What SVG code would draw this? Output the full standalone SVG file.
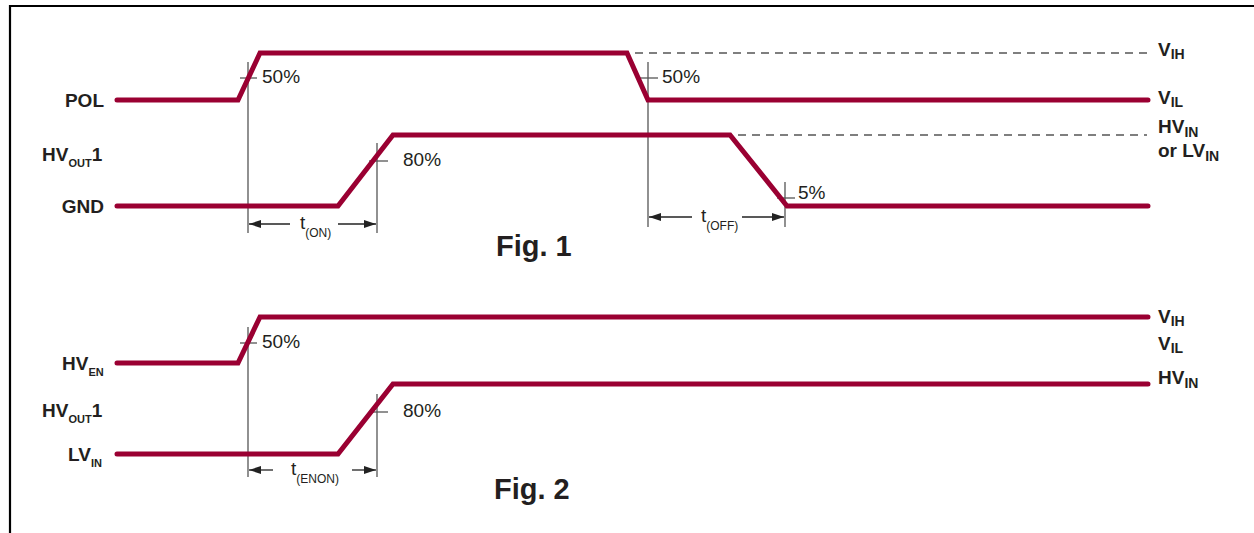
<svg xmlns="http://www.w3.org/2000/svg" width="1254" height="533" viewBox="0 0 1254 533">
<defs>
<style>
.sig{fill:none;stroke:#9a0032;stroke-width:5;stroke-linecap:round;stroke-linejoin:miter}
.ref{fill:none;stroke:#555;stroke-width:1.3}
.dash{fill:none;stroke:#555;stroke-width:1.3;stroke-dasharray:8 6}
.arr{fill:none;stroke:#222;stroke-width:1.3}
.lbl{font-family:"Liberation Sans",Arial,sans-serif;font-weight:bold;font-size:19px;fill:#231f20}
.lsub{font-size:11px}
.rsub{font-size:14px}
.pct{font-family:"Liberation Sans",Arial,sans-serif;font-size:19px;fill:#231f20}
.tsub{font-size:12px}
.fig{font-family:"Liberation Sans",Arial,sans-serif;font-weight:bold;font-size:29px;fill:#231f20}
</style>
<marker id="ah" viewBox="0 0 12 8" refX="12" refY="4" markerWidth="12" markerHeight="8" markerUnits="userSpaceOnUse" orient="auto">
<path d="M0,0 L12,4 L0,8 Z" fill="#222"/>
</marker>
</defs>
<rect width="1254" height="533" fill="#fff"/>
<path d="M10,533 V6 H1260" fill="none" stroke="#000" stroke-width="2.2"/>

<g id="connectors">
<!-- Fig 1 reference lines -->
<line class="dash" x1="635" y1="53" x2="1147" y2="53"/>
<line class="dash" x1="738" y1="135" x2="1147" y2="135"/>
<line class="ref" x1="248" y1="62" x2="248" y2="233"/>
<line class="ref" x1="240" y1="78" x2="257" y2="78"/>
<line class="ref" x1="377" y1="143" x2="377" y2="233"/>
<line class="ref" x1="369" y1="161" x2="388" y2="161"/>
<line class="ref" x1="648" y1="62" x2="648" y2="227"/>
<line class="ref" x1="640" y1="78" x2="658" y2="78"/>
<line class="ref" x1="785" y1="182" x2="785" y2="227"/>
<line class="ref" x1="777" y1="198" x2="795" y2="198"/>
<line class="arr" x1="290" y1="224" x2="249" y2="224" marker-end="url(#ah)"/>
<line class="arr" x1="338" y1="224" x2="376" y2="224" marker-end="url(#ah)"/>
<line class="arr" x1="692" y1="217" x2="649" y2="217" marker-end="url(#ah)"/>
<line class="arr" x1="742" y1="217" x2="784" y2="217" marker-end="url(#ah)"/>
<!-- Fig 2 reference lines -->
<line class="ref" x1="248" y1="327" x2="248" y2="477"/>
<line class="ref" x1="240" y1="343" x2="257" y2="343"/>
<line class="ref" x1="377" y1="394" x2="377" y2="477"/>
<line class="ref" x1="369" y1="412" x2="388" y2="412"/>
<line class="arr" x1="273" y1="470" x2="249" y2="470" marker-end="url(#ah)"/>
<line class="arr" x1="352" y1="470" x2="376" y2="470" marker-end="url(#ah)"/>
</g>

<g id="pol">
<path class="sig" d="M117,100 H238 L260,53 H627 L648,100 H1148"/>
<text class="lbl" x="104" y="107" text-anchor="end">POL</text>
</g>
<g id="hvout1-fig1">
<path class="sig" d="M117,206 H338 L393,135 H730 L787,206 H1148"/>
<text class="lbl" x="42" y="161">HV<tspan class="lsub" dy="6">OUT</tspan><tspan dy="-6">1</tspan></text>
<text class="lbl" x="104" y="213" text-anchor="end">GND</text>
</g>
<g id="fig1-labels">
<text class="pct" x="262" y="83">50%</text>
<text class="pct" x="662" y="83">50%</text>
<text class="pct" x="403" y="166">80%</text>
<text class="pct" x="798" y="199">5%</text>
<text class="pct" x="300" y="229">t<tspan class="tsub" dy="8">(ON)</tspan></text>
<text class="pct" x="701" y="222">t<tspan class="tsub" dy="8">(OFF)</tspan></text>
<text class="lbl" x="1158" y="56">V<tspan class="rsub" dy="3">IH</tspan></text>
<text class="lbl" x="1158" y="104">V<tspan class="rsub" dy="3">IL</tspan></text>
<text class="lbl" x="1158" y="133">HV<tspan class="rsub" dy="4">IN</tspan></text>
<text class="lbl" x="1158" y="157">or LV<tspan class="rsub" dy="4">IN</tspan></text>
<text class="fig" x="496" y="256">Fig. 1</text>
</g>

<g id="hven">
<path class="sig" d="M117,363 H238 L260,317 H1148"/>
<text class="lbl" x="62" y="370">HV<tspan class="lsub" dy="6">EN</tspan></text>
</g>
<g id="hvout1-fig2">
<path class="sig" d="M117,454 H338 L393,384 H1148"/>
<text class="lbl" x="42" y="417">HV<tspan class="lsub" dy="6">OUT</tspan><tspan dy="-6">1</tspan></text>
<text class="lbl" x="68" y="461">LV<tspan class="lsub" dy="6">IN</tspan></text>
</g>
<g id="fig2-labels">
<text class="pct" x="262" y="348">50%</text>
<text class="pct" x="403" y="417">80%</text>
<text class="pct" x="291" y="475">t<tspan class="tsub" dy="8">(ENON)</tspan></text>
<text class="lbl" x="1158" y="323">V<tspan class="rsub" dy="3">IH</tspan></text>
<text class="lbl" x="1158" y="350">V<tspan class="rsub" dy="3">IL</tspan></text>
<text class="lbl" x="1158" y="384">HV<tspan class="rsub" dy="4">IN</tspan></text>
<text class="fig" x="494" y="499">Fig. 2</text>
</g>
</svg>
